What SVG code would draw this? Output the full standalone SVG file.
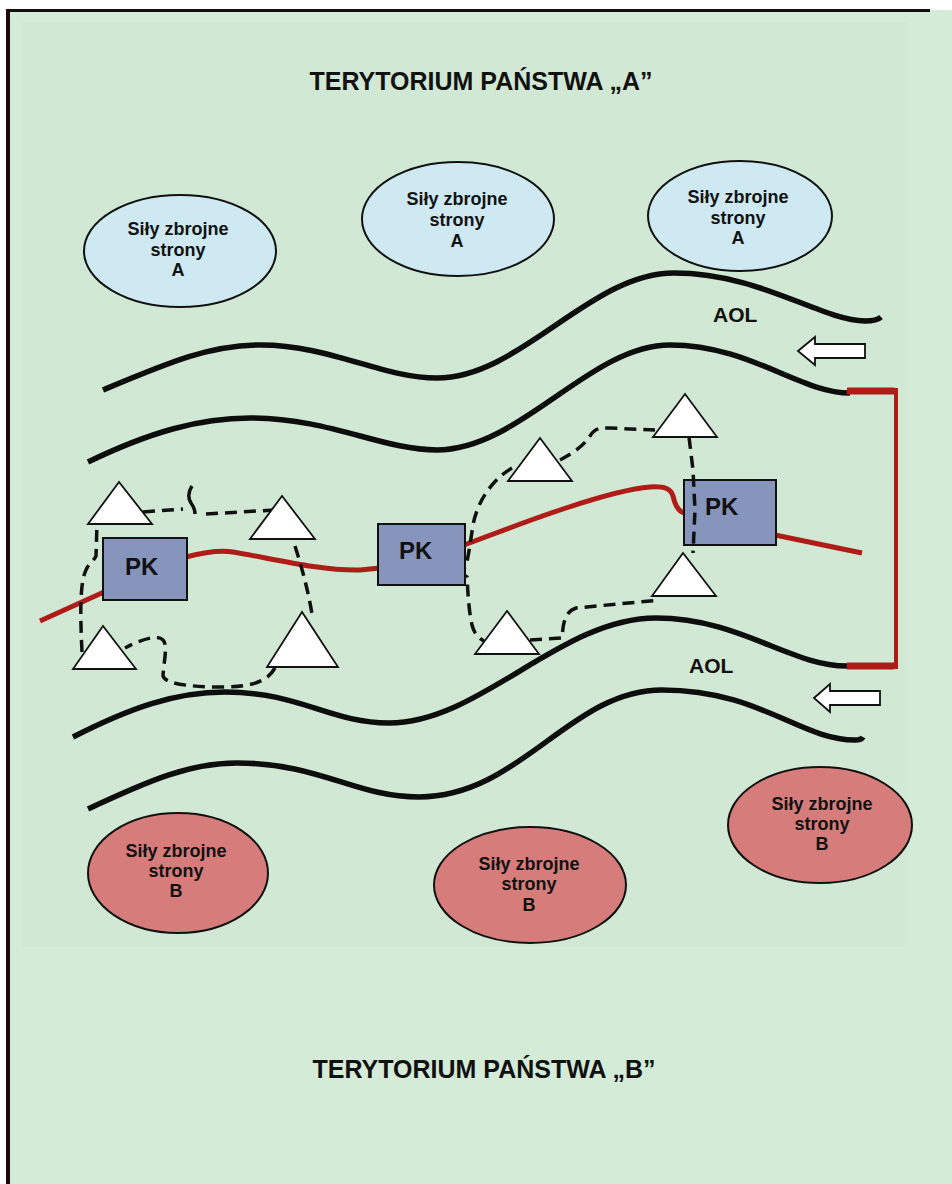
<svg xmlns="http://www.w3.org/2000/svg" width="952" height="1184" viewBox="0 0 952 1184">
  <defs>
    <style>
      .title { font-family: "Liberation Sans", Arial, sans-serif; font-weight: bold; font-size: 25px; fill: #111; text-anchor: middle; }
      .lbl { font-family: "Liberation Sans", Arial, sans-serif; font-weight: bold; font-size: 18px; fill: #111; text-anchor: middle; }
      .aol { font-family: "Liberation Sans", Arial, sans-serif; font-weight: bold; font-size: 21px; fill: #111; }
      .pk { font-family: "Liberation Sans", Arial, sans-serif; font-weight: bold; font-size: 24px; fill: #111; }
      .forceA { fill: #cfe9f3; stroke: #111; stroke-width: 2; }
      .forceB { fill: #d67d7b; stroke: #111; stroke-width: 2; }
      .wave { fill: none; stroke: #0d0d0d; stroke-width: 5.5; stroke-linecap: butt; }
      .route { fill: none; stroke: #b01c18; stroke-width: 5; }
      .dash { fill: none; stroke: #111; stroke-width: 3.5; stroke-dasharray: 12 7; }
      .box { fill: #8795bd; stroke: #111; stroke-width: 2; }
      .tri { fill: #ffffff; stroke: #111; stroke-width: 1.8; stroke-linejoin: miter; }
      .arrow { fill: #ffffff; stroke: #111; stroke-width: 1.8; }
    </style>
  </defs>

  <!-- page background and frame -->
  <rect x="0" y="0" width="952" height="1184" fill="#ffffff"/>
  <rect x="6" y="10" width="946" height="1174" fill="#d4ecd7"/>
  <rect x="22" y="22" width="886" height="925" fill="#cfe8d2" opacity="0.6"/>
  <line x1="6" y1="10.5" x2="930" y2="10.5" stroke="#111" stroke-width="3"/>
  <line x1="8" y1="9" x2="8" y2="1184" stroke="#1a0a0a" stroke-width="4"/>

  <!-- territory titles -->
  <text class="title" x="481" y="90">TERYTORIUM PAŃSTWA „A”</text>
  <text class="title" x="484" y="1078">TERYTORIUM PAŃSTWA „B”</text>

  <!-- forces of side A -->
  <g id="forceA1">
    <ellipse class="forceA" cx="180" cy="251" rx="96" ry="56"/>
    <text class="lbl" x="178" y="235">Siły zbrojne</text>
    <text class="lbl" x="178" y="256">strony</text>
    <text class="lbl" x="178" y="276">A</text>
  </g>
  <g id="forceA2">
    <ellipse class="forceA" cx="458" cy="219" rx="96" ry="57"/>
    <text class="lbl" x="457" y="205">Siły zbrojne</text>
    <text class="lbl" x="457" y="226">strony</text>
    <text class="lbl" x="457" y="247">A</text>
  </g>
  <g id="forceA3">
    <ellipse class="forceA" cx="740" cy="216" rx="92" ry="55"/>
    <text class="lbl" x="738" y="203">Siły zbrojne</text>
    <text class="lbl" x="738" y="224">strony</text>
    <text class="lbl" x="738" y="244">A</text>
  </g>

  <!-- forces of side B -->
  <g id="forceB1">
    <ellipse class="forceB" cx="178" cy="873" rx="90" ry="60"/>
    <text class="lbl" x="176" y="857">Siły zbrojne</text>
    <text class="lbl" x="176" y="877">strony</text>
    <text class="lbl" x="176" y="897">B</text>
  </g>
  <g id="forceB2">
    <ellipse class="forceB" cx="530" cy="885" rx="96" ry="58"/>
    <text class="lbl" x="529" y="870">Siły zbrojne</text>
    <text class="lbl" x="529" y="890">strony</text>
    <text class="lbl" x="529" y="911">B</text>
  </g>
  <g id="forceB3">
    <ellipse class="forceB" cx="820" cy="825" rx="92" ry="58"/>
    <text class="lbl" x="822" y="810">Siły zbrojne</text>
    <text class="lbl" x="822" y="830">strony</text>
    <text class="lbl" x="822" y="850">B</text>
  </g>

  <!-- AOL boundary lines -->
  <g id="aol-lines">
    <path class="wave" d="M103,390 C170,362 210,345 261,345 C330,345 382,378 437,378 C520,378 590,273 674,273 C760,273 820,320 865,321 C873,321 878,320 881,317"/>
    <path class="wave" d="M88,462 C150,432 200,418 250,418 C330,418 382,450 437,450 C520,450 590,345 670,345 C750,345 800,393 850,393"/>
    <path class="wave" d="M73,737 C130,708 175,692 225,692 C300,692 330,723 389,723 C480,723 560,618 656,618 C740,618 790,666 847,666"/>
    <path class="wave" d="M88,809 C150,780 190,763 237,763 C320,763 355,797 419,797 C520,797 570,690 662,690 C760,690 800,740 855,740 C859,740 862,739 863,737"/>
  </g>

  <!-- connectors: route between command posts, flank bracket, patrol routes -->
  <g id="connectors">
    <path class="route" d="M40,621 L104,592"/>
    <path class="route" d="M186,557 C205,552 220,550 233,552 C270,558 320,571 360,570 L380,568"/>
    <path class="route" d="M464,545 C530,520 610,490 650,487 C665,486 671,489 673,496 C675,505 678,512 685,513"/>
    <path class="route" d="M775,535 L862,553"/>

    <path d="M847,391 L894,391" stroke="#b01c18" stroke-width="7" fill="none"/>
    <path d="M847,666 L894,666" stroke="#b01c18" stroke-width="7" fill="none"/>
    <path d="M896,388 L896,669" stroke="#b01c18" stroke-width="4" fill="none"/>

    <!-- left cell -->
    <path class="dash" d="M143,512 L183,509"/>
    <path d="M192,486 C188,492 188,498 191,503 C194,507 195,510 195,514" fill="none" stroke="#111" stroke-width="3.5"/>
    <path class="dash" d="M206,514 L275,510"/>
    <path class="dash" d="M295,546 C302,568 308,590 312,614"/>
    <path class="dash" d="M275,668 C268,680 255,687 223,687 C185,687 165,683 163,676 C164,660 168,645 163,640 C157,634 140,640 125,648"/>
    <path class="dash" d="M82,652 C80,612 80,582 86,570 C89,563 93,562 96,556 L97,524"/>

    <!-- middle and right cells -->
    <path class="dash" d="M560,460 C575,452 584,445 590,436 C595,428 600,428 610,428 L655,430"/>
    <path class="dash" d="M512,468 C495,478 478,498 473,525 C470,545 468,558 466,566 C462,570 463,575 467,577 C468,595 469,612 472,625 C474,633 478,638 484,641"/>
    <path class="dash" d="M530,640 L562,638 C563,625 564,612 576,608 L660,600"/>
  </g>

  <!-- command posts -->
  <g id="pk1">
    <rect class="box" x="103" y="538" width="84" height="62"/>
    <text class="pk" x="125" y="575">PK</text>
  </g>
  <g id="pk2">
    <rect class="box" x="378" y="524" width="87" height="61"/>
    <text class="pk" x="399" y="559">PK</text>
  </g>
  <g id="pk3">
    <rect class="box" x="684" y="480" width="92" height="65"/>
    <text class="pk" x="705" y="515">PK</text>
  </g>
  <path class="dash" d="M689,437 L693,470 L695,510 L693,553"/>

  <!-- observation posts -->
  <g id="op1"><polygon class="tri" points="119,482 88,524 152,524"/></g>
  <g id="op2"><polygon class="tri" points="282,496 250,539 315,539"/></g>
  <g id="op3"><polygon class="tri" points="103,626 73,669 136,669"/></g>
  <g id="op4"><polygon class="tri" points="302,612 267,667 338,667"/></g>
  <g id="op5"><polygon class="tri" points="540,438 508,481 572,481"/></g>
  <g id="op6"><polygon class="tri" points="685,394 653,437 717,437"/></g>
  <g id="op7"><polygon class="tri" points="683,553 652,596 716,596"/></g>
  <g id="op8"><polygon class="tri" points="507,611 475,654 539,654"/></g>

  <!-- direction of movement -->
  <g id="arrow-top"><polygon class="arrow" points="798,351 815,337 815,344 865,344 865,358 815,358 815,365"/></g>
  <g id="arrow-bottom"><polygon class="arrow" points="814,698 830,684 830,691 880,691 880,705 830,705 830,712"/></g>

  <!-- AOL labels -->
  <text class="aol" x="713" y="322">AOL</text>
  <text class="aol" x="689" y="673">AOL</text>
</svg>
